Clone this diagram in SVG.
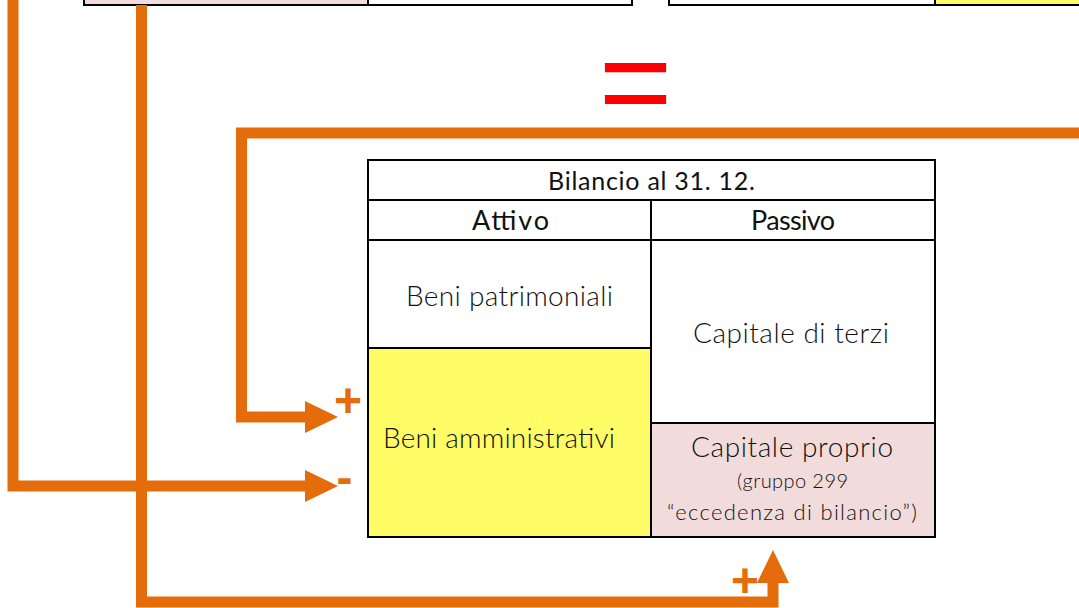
<svg xmlns="http://www.w3.org/2000/svg" width="1079" height="608" viewBox="0 0 1079 608">
<style>
.cell{stroke:#000;stroke-width:2}
.w{fill:#fff}.y{fill:#FFFC66}.p{fill:#F2DCDB}
.t{font-family:Lato,"Open Sans","Liberation Sans",sans-serif;fill:#111}
.m{text-anchor:middle}.st{text-anchor:start}
.ti{font-size:25px;font-weight:400}
.h{font-size:27px;font-weight:400}
.b{font-size:28px;font-weight:300}
.s{font-size:22px;font-weight:300}
.s2{font-size:20px;font-weight:300}
.conn{fill:none;stroke:#E46C0A;stroke-width:11;stroke-linejoin:miter}
.sign{font-family:"Liberation Sans",Arial,sans-serif;font-weight:700;fill:#E46C0A;text-anchor:middle;font-size:48px}
</style>
<defs>
<marker id="ah" markerUnits="userSpaceOnUse" markerWidth="34" markerHeight="34" viewBox="0 0 34 34" refX="5" refY="16" orient="auto">
<path d="M0,0 L33,16 L0,32 z" fill="#E46C0A"/>
</marker>
</defs>
<rect width="1079" height="608" fill="#fff"/>
<g id="top-left-box">
<rect class="cell p" x="84" y="-5" width="284" height="10"/>
<rect class="cell w" x="368" y="-5" width="264" height="10"/>
</g>
<g id="top-right-box">
<rect class="cell w" x="669" y="-5" width="266" height="10"/>
<rect class="cell y" x="935" y="-5" width="160" height="10"/>
</g>
<g id="equals">
<text x="635.5" y="125" font-family="Liberation Sans,Arial,sans-serif" font-size="126" fill="#FF0000" text-anchor="middle">=</text>
</g>
<g id="connectors">
<path class="conn" d="M13,0 V486 H310" marker-end="url(#ah)"/>
<path class="conn" d="M1079,133 H241.5 V417 H310" marker-end="url(#ah)"/>
<path class="conn" d="M141.5,5 V602 H773 V578" marker-end="url(#ah)"/>
<text class="sign" x="348" y="417">+</text>
<text class="sign" x="344.5" y="494">-</text>
<text class="sign" x="745" y="597">+</text>
</g>
<g id="bilancio">
<g id="title">
<rect class="cell w" x="368" y="160" width="567" height="40"/>
<text class="t m ti" x="651.5" y="190" textLength="207">Bilancio al 31. 12.</text>
</g>
<g id="attivo-header">
<rect class="cell w" x="368" y="200" width="283" height="40"/>
<text class="t m h" x="510.5" y="230" textLength="77">Attivo</text>
</g>
<g id="passivo-header">
<rect class="cell w" x="651" y="200" width="284" height="40"/>
<text class="t m h" x="793" y="230" textLength="84">Passivo</text>
</g>
<g id="beni-patrimoniali">
<rect class="cell w" x="368" y="240" width="283" height="108"/>
<text class="t m b" x="509.5" y="306" textLength="207">Beni patrimoniali</text>
</g>
<g id="beni-amministrativi">
<rect class="cell y" x="368" y="348" width="283" height="189"/>
<text class="t st b" x="383" y="448" textLength="232">Beni amministrativi</text>
</g>
<g id="capitale-terzi">
<rect class="cell w" x="651" y="240" width="284" height="183"/>
<text class="t st b" x="693" y="343" textLength="196">Capitale di terzi</text>
</g>
<g id="capitale-proprio">
<rect class="cell p" x="651" y="423" width="284" height="114"/>
<text class="t st b" x="691" y="457" textLength="202">Capitale proprio</text>
<text class="t st s2" x="737" y="488" textLength="111">(gruppo 299</text>
<text class="t st s" x="667" y="520" textLength="250">“eccedenza di bilancio”)</text>
</g>
</g>
</svg>
